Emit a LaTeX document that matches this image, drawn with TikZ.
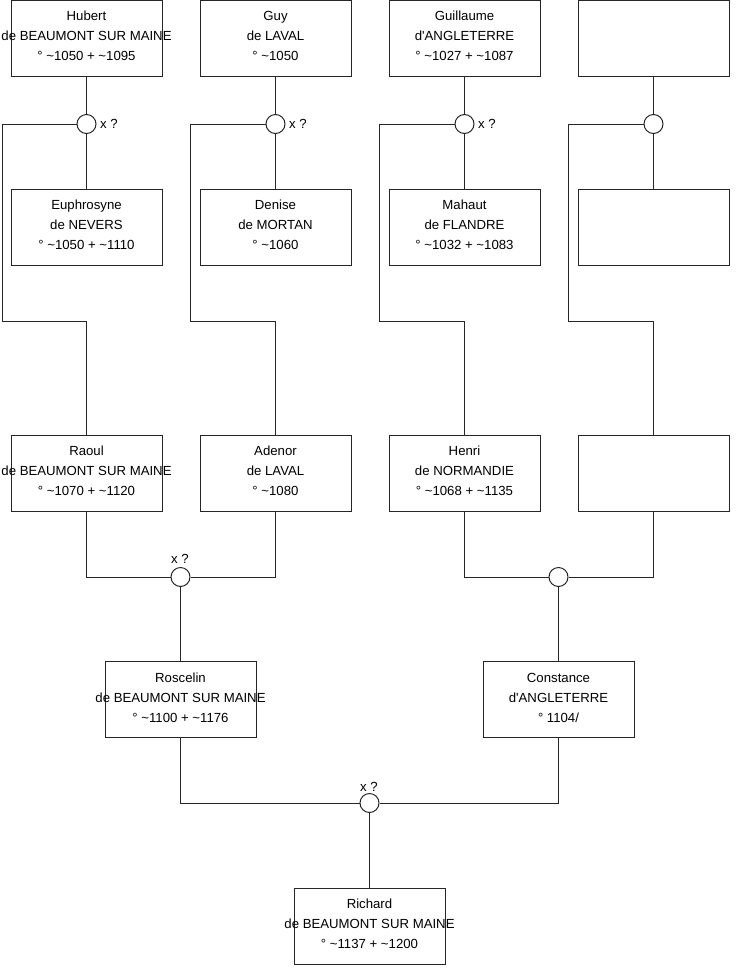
\documentclass[tikz,border=0pt]{standalone}
\usepackage{fontspec}
\setmainfont{Liberation Sans}
\newcommand\ctrl[1]{\hbox to 151pt{\hss#1\hss}}
\newcommand\who[3]{\raisebox{-22.7pt}[0pt][0pt]{\vbox{\ctrl{#1}\ctrl{#2}\ctrl{#3}}}}
\begin{document}
\begin{tikzpicture}[x=1pt,y=-1pt,
  person/.style={draw=black!85,line width=1pt,fill=white,minimum width=151pt,minimum height=76pt,inner sep=0pt,font=\fontsize{13.2}{20}\selectfont,text=black},
  union/.style={draw=black!85,line width=1pt,circle,minimum size=19pt,inner sep=0pt,fill=white},
  link/.style={draw=black!85,line width=1pt},
  xmark/.style={font=\fontsize{13.2}{14}\selectfont,text=black,inner sep=0pt}]
\useasboundingbox (0,0) rectangle (740,975);
% top row
\node[person] (h1) at (86.5,38) {\who{Hubert}{de BEAUMONT SUR MAINE}{° \textasciitilde1050 + \textasciitilde1095}};
\node[person] (h2) at (275.5,38) {\who{Guy}{de LAVAL}{° \textasciitilde1050}};
\node[person] (h3) at (464.5,38) {\who{Guillaume}{d\textquotesingle ANGLETERRE}{° \textasciitilde1027 + \textasciitilde1087}};
\node[person] (h4) at (653.5,38) {};
% spouses
\node[person] (w1) at (86.5,227) {\who{Euphrosyne}{de NEVERS}{° \textasciitilde1050 + \textasciitilde1110}};
\node[person] (w2) at (275.5,227) {\who{Denise}{de MORTAN}{° \textasciitilde1060}};
\node[person] (w3) at (464.5,227) {\who{Mahaut}{de FLANDRE}{° \textasciitilde1032 + \textasciitilde1083}};
\node[person] (w4) at (653.5,227) {};
% children
\node[person] (r1) at (86.5,473) {\who{Raoul}{de BEAUMONT SUR MAINE}{° \textasciitilde1070 + \textasciitilde1120}};
\node[person] (r2) at (275.5,473) {\who{Adenor}{de LAVAL}{° \textasciitilde1080}};
\node[person] (r3) at (464.5,473) {\who{Henri}{de NORMANDIE}{° \textasciitilde1068 + \textasciitilde1135}};
\node[person] (r4) at (653.5,473) {};
% grandchildren
\node[person] (g1) at (180.5,699.5) {\who{Roscelin}{de BEAUMONT SUR MAINE}{° \textasciitilde1100 + \textasciitilde1176}};
\node[person] (g2) at (558.5,699.5) {\who{Constance}{d\textquotesingle ANGLETERRE}{° 1104/}};
\node[person] (rich) at (369.5,926) {\who{Richard}{de BEAUMONT SUR MAINE}{° \textasciitilde1137 + \textasciitilde1200}};
% unions
\node[union] (c1) at (86.5,124) {};
\node[union] (c2) at (275.5,124) {};
\node[union] (c3) at (464.5,124) {};
\node[union] (c4) at (653.5,124) {};
\node[union] (d1) at (180.5,577) {};
\node[union] (d2) at (558.5,577) {};
\node[union] (e1) at (369.5,803) {};
% marks
\node[xmark,anchor=west] (x1) at (100,124) {x ?};
\node[xmark,anchor=west] (x2) at (289,124) {x ?};
\node[xmark,anchor=west] (x3) at (478,124) {x ?};
\node[xmark] (x4) at (180,559) {x ?};
\node[xmark] (x5) at (369,787) {x ?};
% coordinates for elbows
\coordinate (k1) at (2,124);   \coordinate (m1) at (2,321.5);
\coordinate (k2) at (190,124); \coordinate (m2) at (190,321.5);
\coordinate (k3) at (379,124); \coordinate (m3) at (379,321.5);
\coordinate (k4) at (568,124); \coordinate (m4) at (568,321.5);
% connectors
\foreach \i in {1,2,3,4}{
  \draw[link] (h\i.south) -- (c\i.north);
  \draw[link] (c\i.south) -- (w\i.north);
  \draw[link] (c\i.west) -- (k\i) -- (m\i) -| (r\i.north);
}
\draw[link] (r1.south) |- (d1.west);
\draw[link] (r2.south) |- (d1.east);
\draw[link] (d1.south) -- (g1.north);
\draw[link] (r3.south) |- (d2.west);
\draw[link] (r4.south) |- (d2.east);
\draw[link] (d2.south) -- (g2.north);
\draw[link] (g1.south) |- (e1.west);
\draw[link] (g2.south) |- (e1.east);
\draw[link] (e1.south) -- (rich.north);
\end{tikzpicture}
\end{document}
